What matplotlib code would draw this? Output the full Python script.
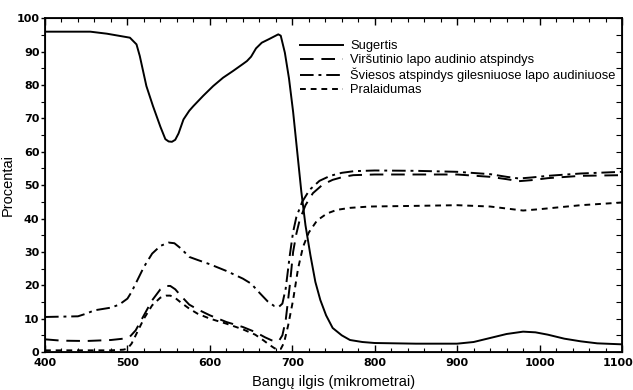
import numpy as np
import matplotlib.pyplot as plt
from matplotlib.ticker import MultipleLocator, FuncFormatter

# wavelength (nm) and percent values
wl_sug = [400, 455, 475, 503, 511, 515, 523, 531, 540, 546, 550, 554, 558, 562, 568, 575,
          580, 592, 604, 616, 628, 640, 645, 650, 656, 663, 672, 683, 686, 691, 696, 701,
          706, 711, 716, 722, 728, 734, 741, 749, 760, 770, 785, 800, 850, 900, 920, 940,
          960, 980, 995, 1010, 1030, 1050, 1070, 1100]
sugertis = [96, 96, 95.4, 94.2, 92.2, 88.7, 79.7, 73.7, 67.5, 63.8, 63.1, 63, 63.6, 65.5,
            69.7, 72.3, 73.7, 76.8, 79.7, 82.2, 84.2, 86.3, 87.2, 88.5, 91, 92.7, 93.8, 95.2,
            94.8, 89.7, 82, 72, 60, 48, 38, 29, 21, 15.6, 11, 7.2, 5, 3.6, 3, 2.7, 2.5, 2.5,
            3, 4.2, 5.4, 6.1, 5.9, 5.2, 4, 3.2, 2.6, 2.3]

wl_refl = [400, 440, 450, 460, 480, 490, 500, 505, 510, 520, 530, 540, 550, 557, 565, 575,
           585, 600, 620, 640, 650, 660, 670, 678, 684, 688, 692, 697, 701, 705, 712, 721,
           733, 746, 760, 775, 800, 850, 900, 940, 960, 975, 990, 1010, 1050, 1100]
sviesos = [10.5, 10.7, 11.5, 12.5, 13.3, 14.2, 16, 18, 20.5, 25.5, 29.5, 31.8, 32.8, 32.6,
           31, 28.5, 27.6, 26.3, 24.3, 22, 20.5, 17.8, 15.2, 13.8, 13.6, 14.5, 19, 29, 36,
           40.5, 45, 48.6, 51.3, 52.8, 53.7, 54.2, 54.4, 54.3, 54, 53.3, 52.5, 52, 52.3,
           52.8, 53.5, 54]

wl_up = [400, 420, 450, 480, 495, 503, 510, 520, 530, 540, 547, 552, 558, 565, 575, 585,
         600, 620, 640, 655, 667, 675, 680, 684, 688, 692, 697, 701, 705, 709, 716, 725,
         737, 749, 762, 774, 800, 850, 900, 940, 960, 975, 990, 1010, 1050, 1100]
virsutinio = [3.8, 3.4, 3.3, 3.6, 4.0, 4.6, 6.5, 11, 15.5, 18.8, 19.8, 19.8, 18.8, 16.8,
              14.2, 12.8, 11, 9, 7.5, 6, 4.4, 3.5, 3.2, 3.4, 5, 9.5, 20, 30, 35.5, 39.6,
              44, 47.6, 50.2, 51.6, 52.5, 53, 53.2, 53.2, 53.2, 52.5, 51.8, 51.2, 51.5,
              52.1, 52.8, 53]

wl_tr = [400, 450, 480, 495, 500, 505, 510, 520, 530, 540, 547, 552, 558, 565, 575, 585,
         600, 620, 640, 655, 665, 672, 678, 682, 686, 690, 695, 701, 707, 713, 720, 730,
         742, 754, 770, 794, 850, 900, 940, 960, 980, 1000, 1050, 1100]
pralaidumas = [0.5, 0.5, 0.5, 0.7, 1.0, 2.5, 5, 10, 14, 16.3, 16.9, 16.9, 16.2, 14.8, 13,
               11.5, 10, 8.5, 6.8, 5.2, 3.5, 2.2, 1.2, 0.7, 0.9, 2.8, 8, 15.6, 25, 31.5,
               35.8, 39.4, 41.5, 42.6, 43.2, 43.6, 43.8, 44, 43.6, 43, 42.4, 42.8, 44, 44.8]

x_min, x_max = 400, 1100
tick_family = ['Liberation Sans Narrow', 'DejaVu Sans']

fig = plt.figure(figsize=(6.33, 3.9), dpi=100)
ax = fig.add_axes([0.0711, 0.0974, 0.9115, 0.8556])

lw = 1.4
ax.plot(wl_sug, sugertis, color='black', lw=lw, label='Sugertis')
ax.plot(wl_up, virsutinio, color='black', lw=lw, dashes=(7, 4),
        label='Viršutinio lapo audinio atspindys')
ax.plot(wl_refl, sviesos, color='black', lw=lw, dashes=(7, 2.5, 1.5, 2.5),
        label='Šviesos atspindys gilesniuose lapo audiniuose')
ax.plot(wl_tr, pralaidumas, color='black', lw=lw, dashes=(3, 2.5), label='Pralaidumas')

ax.set_xlim(x_min, x_max)
ax.set_ylim(0, 100)
ax.xaxis.set_major_locator(MultipleLocator(100))
ax.xaxis.set_minor_locator(MultipleLocator(20))
ax.yaxis.set_major_locator(MultipleLocator(10))
ax.yaxis.set_minor_locator(MultipleLocator(5))
# the last x label sits on the right edge, it is drawn separately a bit to the left
ax.xaxis.set_major_formatter(FuncFormatter(lambda v, p: '' if v >= x_max else f'{v:.0f}'))

ax.tick_params(axis='x', which='both', direction='in', top=True, pad=4)
ax.tick_params(axis='y', which='both', direction='out', pad=1)
ax.tick_params(which='major', length=5, width=1)
ax.tick_params(which='minor', length=3, width=0.8)
ax.tick_params(axis='y', which='both', length=3)
for sp in ax.spines.values():
    sp.set_linewidth(1.3)

# inward ticks on the right edge
ax2 = ax.twinx()
ax2.set_ylim(0, 100)
ax2.yaxis.set_major_locator(MultipleLocator(5))
ax2.tick_params(axis='y', direction='in', length=4, labelright=False)

ax.set_xlabel('Bangų ilgis (mikrometrai)', family='Liberation Sans', fontsize=10.5, labelpad=5)
ax.set_ylabel('Procentai', family='Liberation Sans', fontsize=10.5)
ax.yaxis.set_label_coords(-0.052, 0.5)

ax.legend(loc='upper left', bbox_to_anchor=(0.442, 0.935), frameon=False,
          prop={'family': 'Liberation Sans', 'size': 9.3}, handlelength=3.3,
          handletextpad=0.6, labelspacing=0.15, borderpad=0, borderaxespad=0)

for lab in ax.get_xticklabels() + ax.get_yticklabels():
    lab.set_fontfamily(tick_family)
    lab.set_fontsize(8)
    lab.set_fontweight('bold')
ax.annotate(f'{x_max}', xy=(x_max, 0), xycoords=('data', 'axes fraction'),
            xytext=(-3, -4), textcoords='offset points', ha='center', va='top',
            family=tick_family, fontsize=8, fontweight='bold')

fig.savefig('out.png', dpi=100)
